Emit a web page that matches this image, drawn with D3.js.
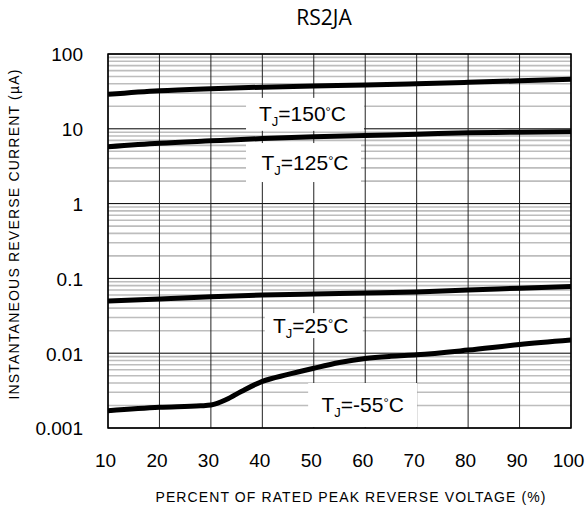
<!DOCTYPE html>
<html>
<head>
<meta charset="utf-8">
<script src="https://cdn.jsdelivr.net/npm/d3@7"></script>
<style>
  body { margin: 0; background: #fff; }
  svg { display: block; }
  text { font-family: "Liberation Sans", Arial, sans-serif; fill: #000; }
</style>
</head>
<body>
<div id="chart"></div>
<script>
// reverse voltage, percent of rated peak
const voltage = [10, 20, 30, 40, 50, 60, 70, 80, 90, 100];
// reverse current (uA) per junction temperature
const current150 = [28.9, 32.3, 34.4, 36.0, 37.3, 38.5, 40.0, 41.8, 43.8, 45.9];
const current125 = [5.75, 6.4, 6.9, 7.4, 7.8, 8.15, 8.45, 8.85, 9.0, 9.15];
const current25 = [0.050, 0.053, 0.057, 0.060, 0.062, 0.064, 0.066, 0.070, 0.074, 0.078];
const voltageM55 = [10, 20, 28, 30, 33, 36, 40, 45, 50, 55, 60, 65, 70, 80, 90, 100];
const currentM55 = [0.0017, 0.00189, 0.00198, 0.00203, 0.0024, 0.0031, 0.0042, 0.0052, 0.0063, 0.0075, 0.0085, 0.0091, 0.0095, 0.0110, 0.0131, 0.0150];

const xTicks = [10, 20, 30, 40, 50, 60, 70, 80, 90, 100];
const yTicks = [0.001, 0.01, 0.1, 1, 10, 100];
const yTickLabels = ["0.001", "0.01", "0.1", "1", "10", "100"];
const seriesLabels = ["150", "125", "25", "-55"];

const width = 587, height = 508;
const margin = {top: 54, right: 16, bottom: 80, left: 108};

const svg = d3.select('#chart').append('svg')
    .attr('width', width)
    .attr('height', height);

const x = d3.scaleLinear().domain([10, 100]).range([margin.left, width - margin.right]);
const y = d3.scaleLog().domain([0.001, 100]).range([height - margin.bottom, margin.top]);

// minor grid (2..9 of each decade)
const minor = [];
yTicks.slice(0, -1).forEach(d => {
    for (let k = 2; k <= 9; k++) minor.push(d * k);
});
svg.append('g').selectAll('line')
    .data(minor).enter().append('line')
    .attr('x1', x(10)).attr('x2', x(100))
    .attr('y1', d => y(d)).attr('y2', d => y(d))
    .attr('stroke', '#bdbdbd').attr('stroke-width', 1.6);

// decade lines
svg.append('g').selectAll('line')
    .data(yTicks).enter().append('line')
    .attr('x1', x(10)).attr('x2', x(100))
    .attr('y1', d => y(d)).attr('y2', d => y(d))
    .attr('stroke', '#000').attr('stroke-width', 1);

// vertical grid
svg.append('g').selectAll('line')
    .data(xTicks).enter().append('line')
    .attr('x1', d => x(d)).attr('x2', d => x(d))
    .attr('y1', y(100)).attr('y2', y(0.001))
    .attr('stroke', '#222').attr('stroke-width', 1);

// label boxes (white, cover grid)
const boxes = [
    {v: 48.3, c: 15.6, w: 118, h: 33},
    {v: 48.0, c: 3.54, w: 115, h: 39},
    {v: 50.0, c: 0.0234, w: 98, h: 25},
    {v: 59.5, c: 0.00203, w: 109, h: 44}
];
svg.append('g').selectAll('rect')
    .data(boxes).enter().append('rect')
    .attr('x', d => x(d.v) - d.w / 2)
    .attr('y', d => y(d.c) - d.h / 2)
    .attr('width', d => d.w)
    .attr('height', d => d.h)
    .attr('fill', '#fff');

// curves
svg.append('clipPath').attr('id', 'plot')
    .append('rect')
    .attr('x', x(10)).attr('y', y(100))
    .attr('width', x(100) - x(10)).attr('height', y(0.001) - y(100));

const line = d3.line()
    .x(d => x(d[0]))
    .y(d => y(d[1]))
    .curve(d3.curveMonotoneX);

const series = [
    d3.zip(voltage, current150),
    d3.zip(voltage, current125),
    d3.zip(voltage, current25),
    d3.zip(voltageM55, currentM55)
];
svg.append('g').attr('clip-path', 'url(#plot)')
    .selectAll('path')
    .data(series).enter().append('path')
    .attr('d', line)
    .attr('fill', 'none')
    .attr('stroke', '#000')
    .attr('stroke-width', 5);

// frame
svg.append('rect')
    .attr('x', x(10)).attr('y', y(100))
    .attr('width', x(100) - x(10)).attr('height', y(0.001) - y(100))
    .attr('fill', 'none').attr('stroke', '#000').attr('stroke-width', 1.5);

// series labels
const labelPos = [
    {v: 47.8, c: 16.0},
    {v: 48.3, c: 3.6},
    {v: 49.4, c: 0.0236},
    {v: 59.5, c: 0.00205}
];
seriesLabels.forEach((s, i) => {
    const t = svg.append('text')
        .attr('x', x(labelPos[i].v))
        .attr('y', y(labelPos[i].c))
        .attr('dy', '0.36em')
        .attr('text-anchor', 'middle')
        .style('font-size', '21px');
    t.append('tspan').text('T');
    t.append('tspan').text('J').style('font-size', '13px').attr('dy', 5);
    t.append('tspan').text('=' + s).attr('dy', -5);
    t.append('tspan').text('°').style('font-size', '13px').attr('dy', -5);
    t.append('tspan').text('C').attr('dy', 5);
});

// axes
const xAxis = d3.axisBottom(x).tickValues(xTicks).tickSize(0).tickPadding(0);
svg.append('g')
    .attr('transform', `translate(-3,${y(0.001)})`)
    .call(xAxis)
    .call(g => g.select('.domain').remove())
    .selectAll('text')
    .attr('y', 39)
    .attr('dy', 0)
    .style('font-size', '19px')
    .style('font-weight', 'normal')
    .style('font-family', '"Liberation Sans", Arial, sans-serif');

const yAxis = d3.axisLeft(y).tickValues(yTicks).tickSize(0).tickPadding(0)
    .tickFormat((d, i) => yTickLabels[i]);
svg.append('g')
    .attr('transform', `translate(${x(10) - 25},0)`)
    .call(yAxis)
    .call(g => g.select('.domain').remove())
    .selectAll('text')
    .attr('dy', '0.36em')
    .style('font-size', '19px')
    .style('font-weight', 'normal')
    .style('font-family', '"Liberation Sans", Arial, sans-serif');

// titles
svg.append('text')
    .attr('x', 324).attr('y', 25)
    .attr('text-anchor', 'middle')
    .style('font-family', '"Open Sans", sans-serif')
    .style('font-size', '21px')
    .text('RS2JA');

svg.append('text')
    .attr('x', 351).attr('y', 502)
    .attr('text-anchor', 'middle')
    .style('font-size', '14px')
    .style('letter-spacing', '1.1px')
    .text('PERCENT OF RATED PEAK REVERSE VOLTAGE (%)');

svg.append('text')
    .attr('transform', 'translate(19,234) rotate(-90)')
    .attr('text-anchor', 'middle')
    .style('font-size', '14px')
    .style('letter-spacing', '1.2px')
    .text('INSTANTANEOUS REVERSE CURRENT (µA)');
</script>
</body>
</html>
